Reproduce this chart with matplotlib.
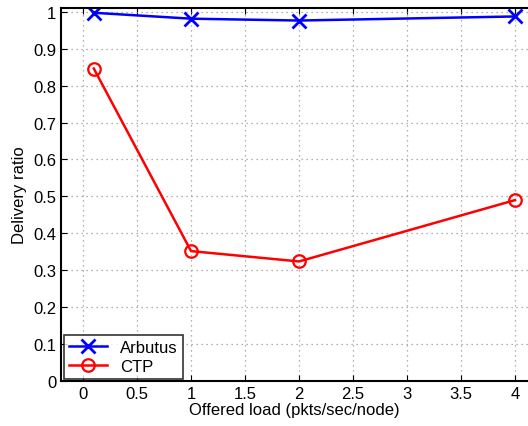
import numpy as np
import matplotlib
matplotlib.use("Agg")
import matplotlib.pyplot as plt

plt.rcParams['font.family'] = ['Liberation Sans', 'DejaVu Sans']

# data
load = [0.1, 1, 2, 4]
arbutus = [0.997, 0.981, 0.976, 0.987]
ctp = [0.846, 0.352, 0.324, 0.490]

fig = plt.figure(figsize=(5.28, 4.27), dpi=100)
# plot box runs past the right edge of the image, as in the reference
ax = fig.add_axes([61 / 528, 0.105, (528 - 61) / 528, 0.874])

ax.plot(load, arbutus, 'b-', marker='x', ms=10, mew=2, lw=1.8, label='Arbutus')
ax.plot(load, ctp, 'r-', marker='o', ms=9, mfc='none', mew=1.6, lw=1.8, label='CTP')

ax.set_xlim(-0.204, 4.12)
ax.set_ylim(0, 1.01)
ax.set_xticks(np.arange(0, 4.01, 0.5))
ax.set_xticklabels(['0', '0.5', '1', '1.5', '2', '2.5', '3', '3.5', '4'])
ax.set_yticks(np.arange(0, 1.01, 0.1))
ax.set_yticklabels(['0', '0.1', '0.2', '0.3', '0.4', '0.5', '0.6', '0.7', '0.8', '0.9', '1'])
ax.tick_params(direction='in', labelsize=12, length=4, top=True, right=False)
ax.grid(True, linestyle=(0, (1, 3)), color='#999999', lw=0.9)
ax.spines['right'].set_visible(False)
for s in ax.spines.values():
    s.set_linewidth(1.5)

ax.set_xlabel('Offered load (pkts/sec/node)', fontsize=12, labelpad=1)
ax.set_ylabel('Delivery ratio', fontsize=12, labelpad=4)

leg = ax.legend(loc='lower left', fontsize=12, fancybox=False, edgecolor='black',
                borderaxespad=0.15, handlelength=2.3, borderpad=0.3, labelspacing=0.2)
leg.get_frame().set_linewidth(1.2)

fig.savefig('out.png', dpi=100)
